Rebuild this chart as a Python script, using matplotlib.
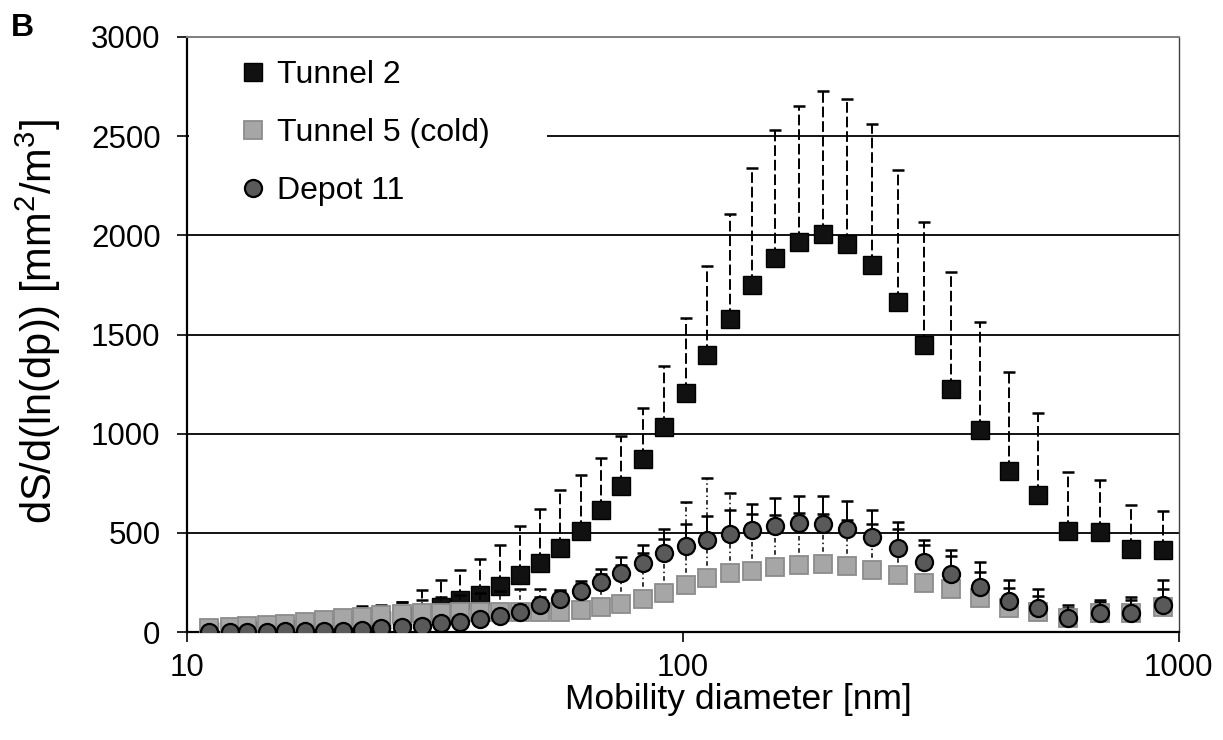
import numpy as np
import matplotlib
matplotlib.use("Agg")
import matplotlib.pyplot as plt
from matplotlib.patches import Rectangle
from matplotlib.ticker import NullLocator, FixedLocator, FixedFormatter

plt.rcParams['font.family'] = ['Liberation Sans', 'DejaVu Sans']
plt.rcParams['mathtext.fontset'] = 'custom'
plt.rcParams['mathtext.rm'] = 'Liberation Sans'
plt.rcParams['mathtext.it'] = 'Liberation Sans:italic'

# ---- data ----
diameter_nm = [11.1, 12.2, 13.2, 14.5, 15.8, 17.3, 18.9, 20.6, 22.5, 24.6,
               27.1, 29.8, 32.5, 35.5, 39.0, 42.7, 47.0, 51.5, 56.6, 62.2,
               68.4, 75.2, 83.0, 91.7, 101.4, 112.1, 124.3, 137.8, 153.7, 171.9,
               191.9, 214.7, 241.3, 272.2, 307.2, 347.8, 397.9, 454.7, 521.8, 599.6,
               693.1, 802.4, 932.2]

tunnel2 = [4, 6, 8, 11, 15, 20, 26, 34, 45, 60,
           80, 97, 127, 160, 189, 230, 285, 348, 422, 509,
           613, 734, 873, 1032, 1206, 1396, 1579, 1749, 1886, 1965,
           2005, 1957, 1848, 1666, 1446, 1224, 1020, 814, 693, 508,
           503, 417, 412]
tunnel2_err = [10, 12, 14, 16, 18, 22, 26, 32, 86, 76,
               72, 114, 134, 155, 181, 211, 248, 274, 292, 285,
               265, 254, 256, 310, 378, 448, 530, 593, 647, 687,
               722, 728, 715, 664, 620, 592, 541, 498, 413, 298,
               264, 225, 199]

tunnel5 = [22, 24, 29, 34, 40, 49, 59, 69, 77, 85,
           90, 95, 98, 99, 99, 99, 99, 100, 100, 111,
           124, 141, 166, 199, 235, 271, 295, 308, 328, 337,
           345, 333, 313, 286, 249, 215, 169, 119, 102, 69,
           94, 94, 127]
tunnel5_err = [8, 8, 9, 10, 11, 12, 14, 16, 20, 25,
               60, 66, 78, 86, 96, 106, 117, 119, 105, 129,
               166, 199, 234, 271, 418, 503, 407, 285, 263, 264,
               248, 230, 233, 234, 191, 167, 134, 105, 79, 50,
               56, 67, 88]

depot11 = [1, 1, 2, 2, 3, 4, 5, 7, 9, 19,
           24, 32, 44, 52, 64, 80, 102, 135, 165, 205,
           253, 300, 350, 399, 435, 466, 492, 513, 534, 548,
           546, 518, 479, 425, 353, 292, 225, 157, 122, 72,
           97, 97, 136]
depot11_err = [2, 2, 2, 3, 3, 4, 5, 6, 8, 8,
               10, 13, 16, 20, 25, 30, 35, 42, 49, 52,
               64, 78, 89, 122, 108, 118, 121, 130, 141, 137,
               139, 145, 134, 128, 109, 120, 127, 104, 96, 64,
               64, 80, 125]

series_names = ['Tunnel 2', 'Tunnel 5 (cold)', 'Depot 11']
x_ticks = [10, 100, 1000]
x_tick_labels = ['10', '100', '1000']
y_ticks = [0, 500, 1000, 1500, 2000, 2500, 3000]

# ---- figure ----
W, H = 1223, 740
fig = plt.figure(figsize=(W / 100, H / 100), dpi=100)
L, R, B, T = 187, 1178.5, 632, 37
ax = fig.add_axes([L / W, 1 - B / H, (R - L) / W, (B - T) / H])

ax.set_xscale('log')
ax.set_xlim(10, 1000)
ax.set_ylim(0, 3000)

styles = [
    dict(marker='s', mfc='#111111', mec='#000000', mew=1.0, ms=12.3,
         els=(0, (5.5, 2.0)), elw=1.4, z=3),
    dict(marker='s', mfc='#a6a6a6', mec='#8c8c8c', mew=1.3, ms=12.3,
         els=(0, (3.0, 2.0, 1.0, 2.0)), elw=1.1, z=4),
    dict(marker='o', mfc='#595959', mec='#000000', mew=1.6, ms=12.3,
         els='-', elw=1.4, z=5),
]
values = [tunnel2, tunnel5, depot11]
errors = [tunnel2_err, tunnel5_err, depot11_err]

handles = []
for name, vals, errs, st in zip(series_names, values, errors, styles):
    vals = np.asarray(vals, float)
    errs = np.asarray(errs, float)
    cont = ax.errorbar(diameter_nm, vals, yerr=[np.zeros_like(errs), errs],
                       fmt='none', ecolor='black', elinewidth=st['elw'],
                       capsize=4.6, capthick=1.8, zorder=st['z'])
    for coll in cont.lines[2]:
        coll.set_linestyle(st['els'])
    ln, = ax.plot(diameter_nm, vals, ls='none', marker=st['marker'],
                  mfc=st['mfc'], mec=st['mec'], mew=st['mew'], ms=st['ms'],
                  zorder=st['z'] + 0.5, label=name)
    handles.append(ln)

# gridlines
ax.set_axisbelow(True)
ax.yaxis.grid(True, color='black', lw=1.3)
ax.xaxis.grid(False)

# ticks
ax.xaxis.set_major_locator(FixedLocator(x_ticks))
ax.xaxis.set_major_formatter(FixedFormatter(x_tick_labels))
ax.xaxis.set_minor_locator(NullLocator())
ax.set_yticks(y_ticks)
ax.tick_params(axis='y', direction='out', length=7, width=1.2, labelsize=22.5, pad=12)
ax.tick_params(axis='x', direction='out', length=7, width=1.2, labelsize=22.5, pad=8)

for side in ['left', 'bottom']:
    ax.spines[side].set_linewidth(1.6)
    ax.spines[side].set_color('black')
ax.spines['top'].set_color('#808080')
ax.spines['top'].set_linewidth(1.4)
ax.spines['right'].set_color('#404040')
ax.spines['right'].set_linewidth(1.0)

# white box behind the legend (hides the gridline there)
ax.add_patch(Rectangle(((189 - L) / (R - L), (B - 230) / (B - T)),
                       (547 - 189) / (R - L), (230 - 40) / (B - T),
                       transform=ax.transAxes, facecolor='white',
                       edgecolor='none', zorder=1.5))

leg = ax.legend(handles=handles, loc='upper left',
                bbox_to_anchor=((240 - L) / (R - L), (B - 60) / (B - T)),
                frameon=False, fontsize=23, handlelength=0.8,
                handletextpad=0.35, labelspacing=0.88, borderpad=0,
                borderaxespad=0, markerscale=1.0)
leg.set_zorder(10)

ax.set_xlabel('Mobility diameter [nm]', fontsize=25.5, va='center')
ax.xaxis.set_label_coords((738 - L) / (R - L), (B - 700) / (B - T))
ax.set_ylabel('dS/d(ln(dp)) [mm$^2$/m$^3$]', fontsize=30, va='center')
ax.yaxis.set_label_coords((38 - L) / (R - L), (B - 322) / (B - T))

fig.text(11 / W, 1 - 13 / H, 'B', fontsize=23, fontweight='bold',
         ha='left', va='top')

fig.savefig('out.png', dpi=100)
